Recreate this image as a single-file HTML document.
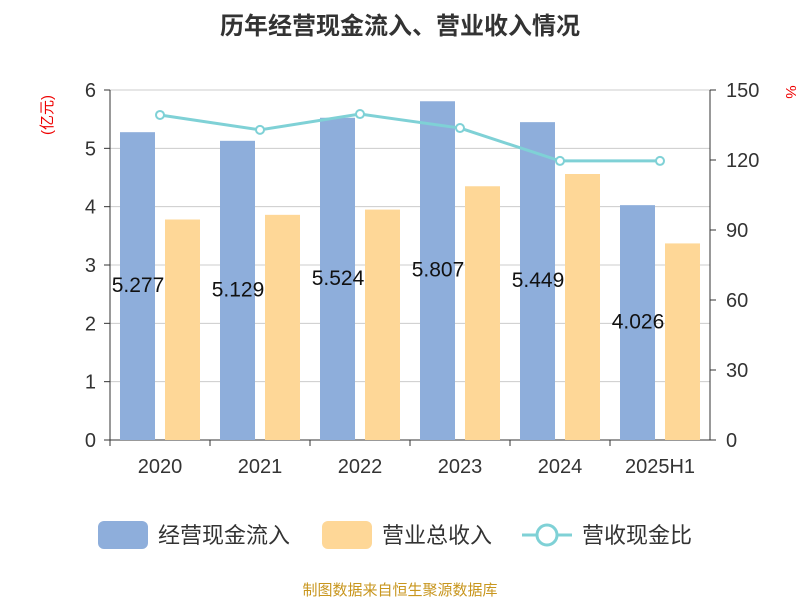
<!DOCTYPE html>
<html><head><meta charset="utf-8"><style>
body{margin:0;background:#fff;font-family:"Liberation Sans","Noto Sans CJK SC",sans-serif}
</style></head><body>
<svg id="c" width="800" height="600" xmlns="http://www.w3.org/2000/svg" font-family="Liberation Sans, Noto Sans CJK SC, sans-serif">
<text x="400" y="34" text-anchor="middle" font-size="24" font-weight="bold" fill="#333">历年经营现金流入、营业收入情况</text>
<text x="52" y="115" font-size="15" fill="#e00" transform="rotate(-90 52 115)" text-anchor="middle">(亿元)</text>
<text x="786" y="92" font-size="15" fill="#e00" transform="rotate(90 786 92)" text-anchor="middle">%</text>
<g id="grid"></g><g id="bars"></g><g id="line"></g><g id="axes"></g>
<g>
<rect x="98" y="521" width="50" height="28" rx="6" fill="#8eaedb"/>
<text x="158" y="543" font-size="22" fill="#333">经营现金流入</text>
<rect x="322" y="521" width="50" height="28" rx="6" fill="#fed797"/>
<text x="382" y="543" font-size="22" fill="#333">营业总收入</text>
<line x1="522" y1="535" x2="572" y2="535" stroke="#7fd1d6" stroke-width="3"/>
<circle cx="547" cy="535" r="10" fill="#fff" stroke="#7fd1d6" stroke-width="3"/>
<text x="582" y="543" font-size="22" fill="#333">营收现金比</text>
</g>
<text x="400" y="595" text-anchor="middle" font-size="15" fill="#c8961e">制图数据来自恒生聚源数据库</text>
</svg>
<script>
const categories=["2020","2021","2022","2023","2024","2025H1"];
const cashValues=[5.277,5.129,5.524,5.807,5.449,4.026];
const revenueValues=[3.78,3.86,3.95,4.35,4.56,3.37];
const ratioValues=[139.3,132.9,139.7,133.7,119.6,119.6];
const leftTicks=[0,1,2,3,4,5,6];
const rightTicks=[0,30,60,90,120,150];
const NS="http://www.w3.org/2000/svg";
const L=110,R=710,T=90,B=440;
const yL=v=>B-(v/6)*(B-T), yR=v=>B-(v/150)*(B-T);
const band=(R-L)/categories.length, xC=i=>L+band*(i+0.5);
function mk(tag,parent,attrs){const e=document.createElementNS(NS,tag);for(const k in attrs)e.setAttribute(k,attrs[k]);document.getElementById(parent).appendChild(e);return e;}
leftTicks.forEach(t=>{
 const l=mk("line","grid",{x1:L,x2:R,y1:yL(t),y2:yL(t),stroke:t===0?"#333":"#ccc","stroke-width":1});
 
 
 const tx=mk("text","axes",{x:L-14,y:yL(t)+7,"text-anchor":"end","font-size":20,fill:"#333"});tx.textContent=t;
 
 
 mk("line","axes",{x1:L-6,x2:L,y1:yL(t),y2:yL(t),stroke:"#333"});
});
rightTicks.forEach(t=>{
 const tx=mk("text","axes",{x:R+16,y:yR(t)+7,"font-size":20,fill:"#333"});tx.textContent=t;
 
 
 mk("line","axes",{x1:R,x2:R+6,y1:yR(t),y2:yR(t),stroke:"#333"});
});
mk("line","axes",{x1:L,x2:L,y1:T,y2:B,stroke:"#333"});
mk("line","axes",{x1:R,x2:R,y1:T,y2:B,stroke:"#333"});
categories.forEach((c,i)=>{
 mk("line","axes",{x1:L+band*i,x2:L+band*i,y1:B,y2:B+6,stroke:"#333"});
 const tx=mk("text","axes",{x:xC(i),y:473,"text-anchor":"middle","font-size":20,fill:"#333"});tx.textContent=c;
 
 
 const b1=mk("rect","bars",{x:xC(i)-40,y:yL(cashValues[i]),width:35,height:B-yL(cashValues[i]),fill:"#8eaedb"});
 
 
 const b2=mk("rect","bars",{x:xC(i)+5,y:yL(revenueValues[i]),width:35,height:B-yL(revenueValues[i]),fill:"#fed797"});
 
 
 const lb=mk("text","bars",{x:xC(i)-22,y:(yL(cashValues[i])+B)/2+6,"text-anchor":"middle","font-size":21,fill:"#111"});lb.textContent=cashValues[i].toFixed(3);
 
 
});
const pts=ratioValues.map((v,i)=>(xC(i))+","+yR(v)).join(" ");
const pl=mk("polyline","line",{points:pts,fill:"none",stroke:"#7fd1d6","stroke-width":3});


ratioValues.forEach((v,i)=>{
 const p=mk("circle","line",{cx:xC(i),cy:yR(v),r:4,fill:"#fff",stroke:"#7fd1d6","stroke-width":2});
 
 
});
</script>
</body></html>
